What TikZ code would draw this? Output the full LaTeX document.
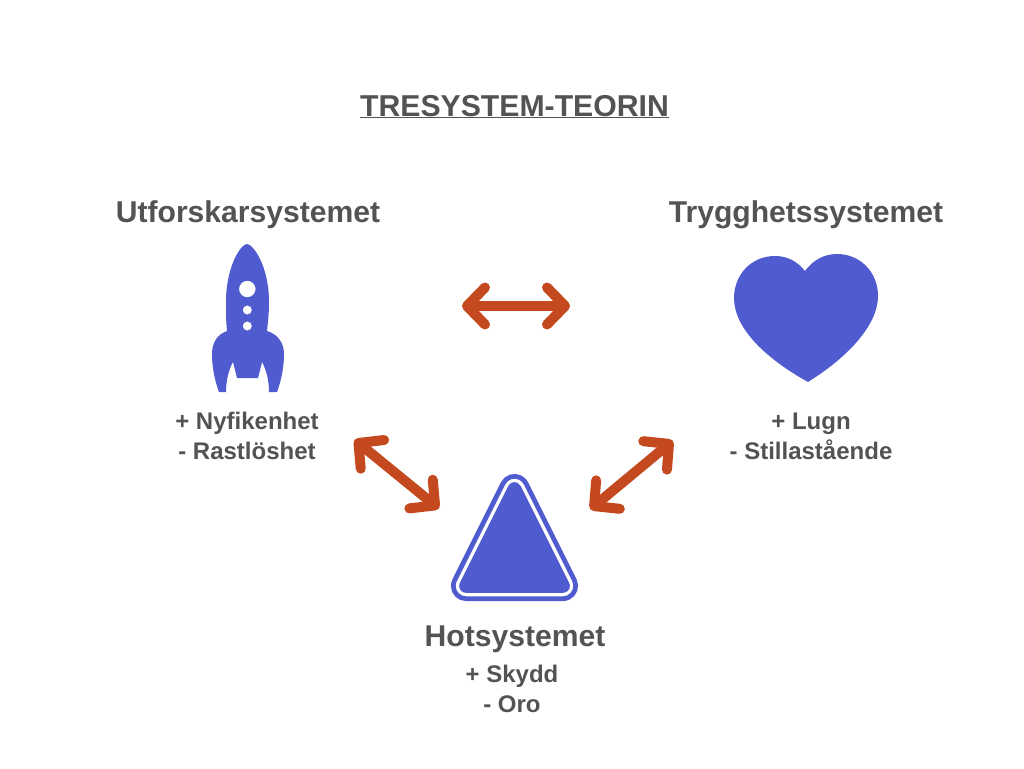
\documentclass[tikz,border=0pt]{standalone}
\usepackage{fontspec}
\setmainfont{Liberation Sans}[BoldFont={Liberation Sans Bold}]
\usetikzlibrary{arrows.meta,calc}
\definecolor{ink}{HTML}{535353}
\definecolor{iconblue}{HTML}{515BD0}
\definecolor{rust}{HTML}{C4491F}
\tikzset{
  x=1pt,y=-1pt,
  title/.style={font=\fontsize{30.2}{34}\selectfont\bfseries,text=ink,anchor=base,inner sep=0pt},
  heading/.style={font=\fontsize{30.1}{34}\selectfont\bfseries,text=ink,anchor=base,inner sep=0pt},
  traits/.style={font=\fontsize{24}{30}\selectfont\bfseries,text=ink,anchor=base,inner sep=0pt,align=center},
  link/.style={draw=rust,line width=10pt,line cap=round,
    {Straight Barb[round,length=18pt,width=37pt]}-{Straight Barb[round,length=18pt,width=37pt]}},
}
% Triangle outline built from three corner circles of radius #1
\newcommand{\warnpath}[1]{
  (514.5,489.1) ++(206.57:#1) arc[start angle=206.57,end angle=333.43,radius=#1]
  -- ($(562.9,585.9)+(333.43:#1)$) arc[start angle=-26.57,end angle=90,radius=#1]
  -- ($(466.1,585.9)+(90:#1)$) arc[start angle=90,end angle=206.57,radius=#1] -- cycle}
\begin{document}
\begin{tikzpicture}
\useasboundingbox (0,0) rectangle (1024,768);
\fill[white] (0,0) rectangle (1024,768);

% Title and system headings
\node[title] (title) at (514.5,116) {\underline{TRESYSTEM-TEORIN}};
\node[heading] (explore) at (248,222) {Utforskarsystemet};
\node[heading] (safety) at (806,222) {Trygghetssystemet};
\node[heading] (threat) at (515,646) {Hotsystemet};

% Positive and negative sides of each system
\node[traits] (exploretraits) at (247,459) {+ Nyfikenhet\\- Rastlöshet};
\node[traits] (safetytraits) at (811,459) {+ Lugn\\- Stillastående};
\node[traits] (threattraits) at (512,712) {+ Skydd\\- Oro};

% Rocket
\fill[iconblue,even odd rule]
  (247,244) .. controls (241,244) and (226,266) .. (226,302)
  .. controls (226,313) and (226,322) .. (227,331)
  .. controls (218,334) and (212,342) .. (212,354)
  .. controls (212,368) and (215,381) .. (219,392)
  -- (226,392) .. controls (226,380) and (229,369) .. (233,362)
  -- (237,378) -- (258,378) -- (262,362)
  .. controls (266,369) and (269,380) .. (269,392)
  -- (277,392) .. controls (281,381) and (284,368) .. (284,354)
  .. controls (284,342) and (277,334) .. (267,331)
  .. controls (268,322) and (269,313) .. (269,302)
  .. controls (269,266) and (253,244) .. (247,244) -- cycle
  (247.3,289) circle[radius=8.3]
  (247.3,310) circle[radius=4.6]
  (247.3,326) circle[radius=4.6];

% Heart
\fill[iconblue]
  (805,271) .. controls (797,261) and (787,256) .. (775,256)
  .. controls (751,256) and (734,275) .. (734,298)
  .. controls (734,328) and (765,358) .. (808,382)
  .. controls (848,357) and (878,325) .. (878,296)
  .. controls (878,272) and (860,254) .. (837,254)
  .. controls (824,254) and (813,260) .. (805,271) -- cycle;

% Warning triangle with a separate outline
\draw[iconblue,line width=4.7pt] \warnpath{12.8};
\fill[iconblue] \warnpath{6.95};

% Connections between the three systems
\coordinate (hl) at (462,306);
\coordinate (hr) at (570,306);
\coordinate (ll) at (354.6,439.8);
\coordinate (lr) at (438.9,508.6);
\coordinate (rl) at (590.3,509.3);
\coordinate (rr) at (672.8,440.7);
\draw[link] (hl) -- (hr);
\draw[link] (ll) -- (lr);
\draw[link] (rl) -- (rr);
\end{tikzpicture}
\end{document}
